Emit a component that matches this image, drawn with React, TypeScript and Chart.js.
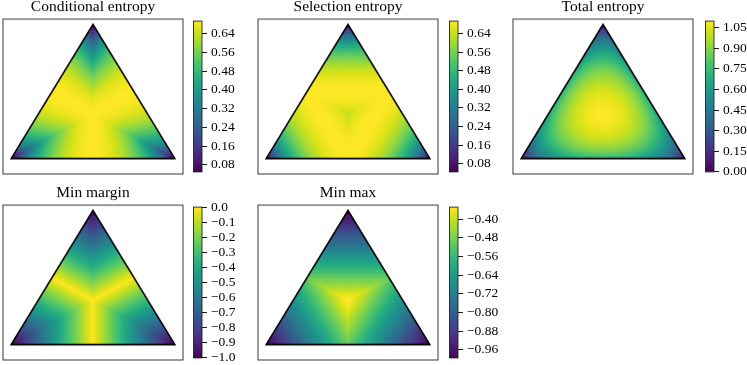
import React, { useEffect, useRef } from 'react';
import { Chart, registerables } from 'chart.js';

Chart.register(...registerables);

// ---------------- data ----------------
const PANEL_TITLES = ['Conditional entropy', 'Selection entropy', 'Total entropy', 'Min margin', 'Min max'];

const CONDITIONAL_TICKS = [0.08, 0.16, 0.24, 0.32, 0.4, 0.48, 0.56, 0.64];
const SELECTION_TICKS = [0.08, 0.16, 0.24, 0.32, 0.4, 0.48, 0.56, 0.64];
const TOTAL_TICKS = [0.0, 0.15, 0.3, 0.45, 0.6, 0.75, 0.9, 1.05];
const MIN_MARGIN_TICKS = [0.0, -0.1, -0.2, -0.3, -0.4, -0.5, -0.6, -0.7, -0.8, -0.9, -1.0];
const MIN_MAX_TICKS = [-0.4, -0.48, -0.56, -0.64, -0.72, -0.8, -0.88, -0.96];
const TICK_DECIMALS = [2, 2, 2, 1, 2];

// colour-scale extents
const CONDITIONAL_RANGE = [0.05, 0.693];
const SELECTION_RANGE = [0.045, 0.693];
const TOTAL_RANGE = [0.0, 1.0986];
const MIN_MARGIN_RANGE = [-1.0, 0.0];
const MIN_MAX_RANGE = [-0.995, -0.349];

// corners of the probability simplex (ternary plot)
const SIMPLEX_CORNERS = [
  [0, 0],
  [1, 0],
  [0.5, Math.sqrt(3) / 2],
];

// sampling grid over the simplex
const GRID_STEP_X = 0.011;
const GRID_STEP_Y = 0.0115;
const H3 = Math.sqrt(3) / 2;
const GRID_X: number[] = [];
const GRID_Y: number[] = [];
const GRID_P: number[][] = [];
for (let y = -0.02; y <= H3 + 0.02; y += GRID_STEP_Y) {
  for (let x = -0.02; x <= 1.02; x += GRID_STEP_X) {
    const p3 = y / H3;
    const p2 = x - p3 / 2;
    const p1 = 1 - p2 - p3;
    if (p1 < -0.03 || p2 < -0.03 || p3 < -0.03) continue;
    const q = [Math.max(p1, 0), Math.max(p2, 0), Math.max(p3, 0)];
    const s = q[0] + q[1] + q[2];
    GRID_X.push(x);
    GRID_Y.push(y);
    GRID_P.push([q[0] / s, q[1] / s, q[2] / s]);
  }
}

const h = (q: number) => (q > 0 ? -q * Math.log(q) : 0);
const top2 = (p: number[]) => {
  const s = [...p].sort((a, b) => b - a);
  return [s[0], s[1]];
};
const conditionalEntropy = (p: number[]) => {
  const [a, b] = top2(p);
  const r = a / (a + b);
  return h(r) + h(1 - r);
};
const selectionEntropy = (p: number[]) => {
  const m = Math.max(...p);
  return h(m) + h(1 - m);
};
const totalEntropy = (p: number[]) => h(p[0]) + h(p[1]) + h(p[2]);
const minMargin = (p: number[]) => {
  const [a, b] = top2(p);
  return -(a - b);
};
const minMax = (p: number[]) => -Math.max(...p);

const CONDITIONAL_VALUES = GRID_P.map(conditionalEntropy);
const SELECTION_VALUES = GRID_P.map(selectionEntropy);
const TOTAL_VALUES = GRID_P.map(totalEntropy);
const MIN_MARGIN_VALUES = GRID_P.map(minMargin);
const MIN_MAX_VALUES = GRID_P.map(minMax);

// ---------------- colour map ----------------
const VIRIDIS = ['#440154', '#481467', '#482576', '#453781', '#404688', '#39558c', '#33638d', '#2d718e', '#287d8e', '#238a8d', '#1f968b', '#20a386', '#29af7f', '#3cbc75', '#56c667', '#75d054', '#95d840', '#b8de29', '#dce319', '#fde725'];
const VIRIDIS_RGB = VIRIDIS.map((c) => [parseInt(c.slice(1, 3), 16), parseInt(c.slice(3, 5), 16), parseInt(c.slice(5, 7), 16)]);
function viridis(t: number) {
  const tt = Math.min(1, Math.max(0, t));
  const f = tt * (VIRIDIS_RGB.length - 1);
  const i = Math.min(VIRIDIS_RGB.length - 2, Math.floor(f));
  const u = f - i;
  const a = VIRIDIS_RGB[i];
  const b = VIRIDIS_RGB[i + 1];
  const r = Math.round(a[0] + (b[0] - a[0]) * u);
  const g = Math.round(a[1] + (b[1] - a[1]) * u);
  const bl = Math.round(a[2] + (b[2] - a[2]) * u);
  return `rgb(${r},${g},${bl})`;
}

// ---------------- layout ----------------
const PANELS = [
  { title: PANEL_TITLES[0], values: CONDITIONAL_VALUES, ticks: CONDITIONAL_TICKS, range: CONDITIONAL_RANGE, dec: TICK_DECIMALS[0], boxLeft: 3, boxTop: 19, cbLeft: 193.5 },
  { title: PANEL_TITLES[1], values: SELECTION_VALUES, ticks: SELECTION_TICKS, range: SELECTION_RANGE, dec: TICK_DECIMALS[1], boxLeft: 257.5, boxTop: 19, cbLeft: 449 },
  { title: PANEL_TITLES[2], values: TOTAL_VALUES, ticks: TOTAL_TICKS, range: TOTAL_RANGE, dec: TICK_DECIMALS[2], boxLeft: 513, boxTop: 19, cbLeft: 705 },
  { title: PANEL_TITLES[3], values: MIN_MARGIN_VALUES, ticks: MIN_MARGIN_TICKS, range: MIN_MARGIN_RANGE, dec: TICK_DECIMALS[3], boxLeft: 3, boxTop: 205, cbLeft: 193.5 },
  { title: PANEL_TITLES[4], values: MIN_MAX_VALUES, ticks: MIN_MAX_TICKS, range: MIN_MAX_RANGE, dec: TICK_DECIMALS[4], boxLeft: 257.5, boxTop: 205, cbLeft: 449 },
];
const BOX_W = 180;
const BOX_H = 154.5;
const CB_W = 8.5;
const CB_H = 155.5;
const TITLE_BLOCK = 19;
const SERIF = "'Liberation Serif', 'Times New Roman', serif";

const framePlugin = {
  id: 'frame',
  afterDraw(chart: any, _args: any, opts: any) {
    const { ctx, chartArea: a } = chart;
    ctx.save();
    ctx.strokeStyle = opts.color || '#000';
    ctx.lineWidth = opts.width || 0.8;
    ctx.strokeRect(a.left, a.top, a.right - a.left, a.bottom - a.top);
    ctx.restore();
  },
};

function trianglePath(chart: any) {
  const { ctx, scales } = chart;
  ctx.beginPath();
  SIMPLEX_CORNERS.forEach(([tx, ty], i) => {
    const px = scales.x.getPixelForValue(tx);
    const py = scales.y.getPixelForValue(ty);
    if (i === 0) ctx.moveTo(px, py);
    else ctx.lineTo(px, py);
  });
  ctx.closePath();
}

const trianglePlugin = {
  id: 'simplex',
  beforeDatasetsDraw(chart: any) {
    chart.ctx.save();
    trianglePath(chart);
    chart.ctx.clip();
  },
  afterDatasetsDraw(chart: any) {
    const ctx = chart.ctx;
    ctx.restore();
    ctx.save();
    trianglePath(chart);
    ctx.lineJoin = 'miter';
    ctx.strokeStyle = '#000';
    ctx.lineWidth = 1.6;
    ctx.stroke();
    ctx.restore();
  },
};

function fmt(v: number, dec: number) {
  const s = Math.abs(v).toFixed(dec);
  return v < -1e-9 ? '\u2212' + s : s;
}

export default function App() {
  const heatRefs = useRef<(HTMLCanvasElement | null)[]>([]);
  const cbRefs = useRef<(HTMLCanvasElement | null)[]>([]);

  useEffect(() => {
    document.body.style.margin = '0';
    const charts: Chart[] = [];
    PANELS.forEach((pn, i) => {
      const hc = heatRefs.current[i];
      const cc = cbRefs.current[i];
      if (!hc || !cc) return;
      const [vmin, vmax] = pn.range;
      const colors = pn.values.map((v) => viridis((v - vmin) / (vmax - vmin)));
      const pts = GRID_X.map((x, k) => ({ x, y: GRID_Y[k] }));
      charts.push(
        new Chart(hc, {
          type: 'scatter',
          data: {
            datasets: [
              {
                data: pts,
                pointStyle: 'rect',
                pointRadius: 1.75,
                pointBorderWidth: 0,
                pointHoverRadius: 1.75,
                pointBackgroundColor: colors,
              } as any,
            ],
          },
          options: {
            animation: false,
            responsive: false,
            events: [],
            layout: { padding: { left: 3, right: 3, top: 0, bottom: 3 } },
            scales: {
              x: { type: 'linear', min: -0.05, max: 1.05, display: false },
              y: { type: 'linear', min: -0.1, max: 0.9, display: false },
            },
            plugins: {
              legend: { display: false },
              tooltip: { enabled: false },
              title: {
                display: true,
                text: pn.title,
                color: '#000',
                font: { family: SERIF, size: 15.5, weight: 'normal', lineHeight: 14 / 15.5 },
                padding: { top: 0, bottom: TITLE_BLOCK - 14 },
              },
              frame: { color: '#222', width: 0.9 },
            } as any,
          },
          plugins: [trianglePlugin, framePlugin],
        })
      );
      charts.push(
        new Chart(cc, {
          type: 'bar',
          data: {
            labels: ['cb'],
            datasets: [
              {
                data: [[vmin, vmax]],
                borderWidth: 0,
                barPercentage: 1,
                categoryPercentage: 1,
                backgroundColor: (c: any) => {
                  const chart = c.chart;
                  if (!chart.chartArea) return VIRIDIS[10];
                  const ys = chart.scales.y;
                  const g = chart.ctx.createLinearGradient(0, ys.getPixelForValue(vmin), 0, ys.getPixelForValue(vmax));
                  VIRIDIS.forEach((col, k) => g.addColorStop(k / (VIRIDIS.length - 1), col));
                  return g;
                },
              } as any,
            ],
          },
          options: {
            animation: false,
            responsive: false,
            events: [],
            layout: { padding: { left: 2.5, right: 0, top: 10, bottom: 10 } },
            scales: {
              x: { display: false },
              y: {
                position: 'right',
                min: vmin,
                max: vmax,
                afterBuildTicks: (s: any) => {
                  s.ticks = pn.ticks.map((v) => ({ value: v }));
                },
                afterFit: (s: any) => {
                  s.width = 44;
                },
                border: { display: false },
                grid: { drawOnChartArea: false, drawTicks: true, tickLength: 5, color: '#000', lineWidth: 0.9 },
                ticks: {
                  autoSkip: false,
                  padding: 4,
                  color: '#000',
                  font: { family: SERIF, size: 13.5 },
                  callback: (v: any) => fmt(Number(v), pn.dec),
                },
              },
            },
            plugins: {
              legend: { display: false },
              tooltip: { enabled: false },
              frame: { color: '#222', width: 0.9 },
            } as any,
          },
          plugins: [framePlugin],
        })
      );
    });
    return () => charts.forEach((c) => c.destroy());
  }, []);

  return (
    <div style={{ position: 'relative', width: 747, height: 365, overflow: 'hidden', background: '#fff' }}>
      {PANELS.map((pn, i) => {
        const left = pn.boxLeft - 3;
        const top = pn.boxTop - TITLE_BLOCK;
        const w = BOX_W + 6;
        const hh = TITLE_BLOCK + BOX_H + 3;
        const cbCanvasLeft = pn.cbLeft - 2.5;
        const cbTop = pn.boxTop - 0.5 - 10;
        const cbW = 2.5 + CB_W + 44;
        const cbH = CB_H + 20;
        return (
          <React.Fragment key={i}>
            <canvas
              ref={(el) => {
                heatRefs.current[i] = el;
              }}
              width={w}
              height={hh}
              style={{ position: 'absolute', left, top, width: w, height: hh }}
            />
            <canvas
              ref={(el) => {
                cbRefs.current[i] = el;
              }}
              width={cbW}
              height={cbH}
              style={{ position: 'absolute', left: cbCanvasLeft, top: cbTop, width: cbW, height: cbH }}
            />
          </React.Fragment>
        );
      })}
    </div>
  );
}
